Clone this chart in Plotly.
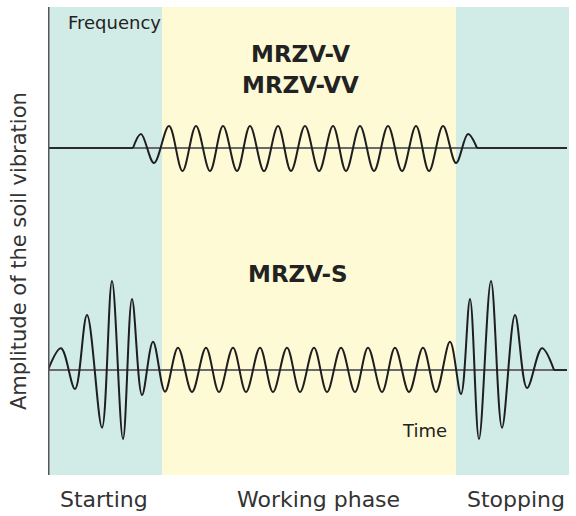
import plotly.graph_objects as go

# ---- data (time in px-units from the amplitude axis, amplitude relative to each baseline) ----
phase_names = ["Starting", "Working phase", "Stopping"]
phase_bounds = [0, 114, 408, 521]          # starting / working / stopping boundaries on time axis
phase_colors = ["#d1ebe6", "#fefad6", "#d1ebe6"]

# MRZV-V / MRZV-VV waveform (extrema)
v_time = [85, 93, 106, 121, 134.5, 148, 162, 175, 189, 202, 216, 230, 243, 257, 271, 285, 298,
          312, 326, 340, 354, 368, 381, 395, 408, 420, 429]
v_amp = [0, 14, -15, 22, -23, 22, -23, 22, -23, 22, -23, 22, -23, 22, -23, 22, -23,
         22, -23, 22, -23, 22, -23, 22, -15, 14, 0]

# MRZV-S waveform
s_time = [0, 13, 27, 39, 54, 64, 75, 84, 94, 105, 117, 130, 144, 158, 171, 185, 198, 212, 225,
          239, 252, 266, 279, 293, 307, 320, 334, 347, 361, 375, 388, 402, 413, 422, 431, 443,
          454, 467, 479, 494, 506]
s_amp = [0, 21.7, -19, 55, -57.7, 89, -69, 71, -25, 28.3, -21.7, 22.3, -22, 22.3, -22, 22.3, -22,
         22.3, -22, 22.3, -22, 22.3, -22, 22.3, -22, 22.3, -22, 22.3, -22, 22.3, -22, 28.3, -24,
         71, -69, 89, -57.7, 55, -18, 21.7, 0]

x_end = 519
v_base = 327
s_base = 105

W, H = 576, 516
ML, MR, MT, MB = 48, 7, 7, 41
PW, PH = W - ML - MR, H - MT - MB

fig = go.Figure()

# background phases
for i in range(3):
    fig.add_shape(type="rect", xref="x", yref="y",
                  x0=phase_bounds[i], x1=phase_bounds[i + 1], y0=0, y1=468,
                  fillcolor=phase_colors[i], line_width=0, layer="below")

# baselines
for b in (v_base, s_base):
    fig.add_trace(go.Scatter(x=[0, x_end], y=[b, b], mode="lines",
                             line=dict(color="#6a6a6a", width=2), hoverinfo="skip"))

# flat parts of the waveforms
fig.add_trace(go.Scatter(
    x=[0, v_time[0], None, v_time[-1], x_end, None, s_time[-1], x_end],
    y=[v_base, v_base, None, v_base, v_base, None, s_base, s_base],
    mode="lines", line=dict(color="#2a2a2a", width=2), hoverinfo="skip"))

# waveforms
fig.add_trace(go.Scatter(x=v_time, y=[v_base + a for a in v_amp], mode="lines",
                         line=dict(color="#1e1e1e", width=2, shape="spline", smoothing=1),
                         hoverinfo="skip"))
fig.add_trace(go.Scatter(x=s_time, y=[s_base + a for a in s_amp], mode="lines",
                         line=dict(color="#1e1e1e", width=2, shape="spline", smoothing=1),
                         hoverinfo="skip"))

# amplitude axis line
fig.add_shape(type="line", xref="x", yref="y", x0=0.5, x1=0.5, y0=0, y1=468,
              line=dict(color="#555555", width=2))

FONT = "DejaVu Sans"
def note(text, px, py, size, bold=False, color="#222222", **kw):
    fig.add_annotation(text=f"<b>{text}</b>" if bold else text,
                       x=(px - ML) / PW, y=(H - MB - py) / PH, xref="paper", yref="paper",
                       showarrow=False, font=dict(family=FONT, size=size, color=color),
                       xanchor="center", yanchor="middle", **kw)

note("Frequency", 114, 23, 18)
note("MRZV-V", 300, 54, 23, bold=True)
note("MRZV-VV", 300, 85, 23, bold=True)
note("MRZV-S", 298, 274, 23, bold=True)
note("Time", 424, 430, 18)
note("Amplitude of the soil vibration", 19, 251, 21, color="#333333", textangle=-90)
centers = [104, 318, 516]
for name, cx in zip(phase_names, centers):
    note(name, cx, 499, 22, color="#333333")

fig.update_layout(
    width=W, height=H,
    margin=dict(l=ML, r=MR, t=MT, b=MB),
    paper_bgcolor="white", plot_bgcolor="white",
    showlegend=False,
    xaxis=dict(range=[0, 521], visible=False, fixedrange=True),
    yaxis=dict(range=[0, 468], visible=False, fixedrange=True),
)

fig.write_html("out.html", config={"displayModeBar": False},
               post_script="document.body.style.margin='0px';")
